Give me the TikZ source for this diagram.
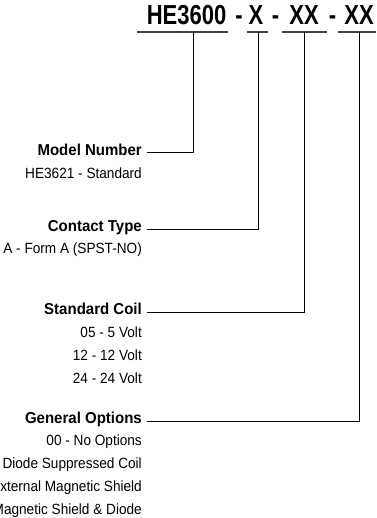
\documentclass[tikz,border=0pt]{standalone}
\usepackage{fontspec}
\setmainfont{Liberation Sans}
\newfontfamily\titlefont[FakeStretch=0.8]{Liberation Sans}
\newfontfamily\labfont[FakeStretch=0.95]{Liberation Sans}
\newfontfamily\valfont[FakeStretch=0.92]{Liberation Sans}
\begin{document}
\begin{tikzpicture}[x=1pt,y=1pt,
  title/.style={font=\titlefont\fontsize{27.5}{32}\bfseries, inner sep=0, anchor=base},
  lab/.style={font=\labfont\fontsize{15.8}{18}\bfseries, inner sep=0, anchor=base east},
  val/.style={font=\valfont\fontsize{14.8}{20}\selectfont, inner sep=0, anchor=base east},
  uline/.style={draw=black!75, line width=1.2pt},
  lead/.style={draw=black, line width=0.8pt}]
\useasboundingbox (0,0) rectangle (376,-518);
\clip (0,0) rectangle (376,-518);
% title
\node[title] (t0) at (186.5,-25) {HE3600};
\node[title] (d1) at (239,-25) {-};
\node[title] (t1) at (256,-25) {X};
\node[title] (d2) at (275.5,-25) {-};
\node[title] (t2) at (304,-25) {XX};
\node[title] (d3) at (332.5,-25) {-};
\node[title] (t3) at (359,-25) {XX};
% underlines
\coordinate (u0) at (193,-32);
\coordinate (u1) at (258,-32);
\coordinate (u2) at (304.5,-32);
\coordinate (u3) at (359.5,-32);
\draw[uline] (137,-32) -- (228,-32);
\draw[uline] (247,-32) -- (268,-32);
\draw[uline] (282,-32) -- (327,-32);
\draw[uline] (338,-32) -- (376,-32);
% labels
\node[lab] (l0) at (142,-156) {Model Number};
\node[val] (v0) at (142,-179) {HE3621 - Standard};
\node[lab] (l1) at (142,-231) {Contact Type};
\node[val] (v1) at (142,-253) {A - Form A (SPST-NO)};
\node[lab] (l2) at (142,-314) {Standard Coil};
\node[val] (v2a) at (142,-337) {05 - 5 Volt};
\node[val] (v2b) at (142,-360) {12 - 12 Volt};
\node[val] (v2c) at (142,-383) {24 - 24 Volt};
\node[lab] (l3) at (142,-423) {General Options};
\node[val] (v3a) at (142,-445) {00 - No Options};
\node[val] (v3b) at (142,-468) {01 - Diode Suppressed Coil};
\node[val] (v3c) at (142,-491) {02 - External Magnetic Shield};
\node[val] (v3d) at (142,-514) {03 - Magnetic Shield \& Diode};
% leaders
\draw[lead] ([shift={(5,3.5)}]l0.base east) -| (u0);
\draw[lead] ([shift={(5,1.5)}]l1.base east) -| (u1);
\draw[lead] ([shift={(5,2)}]l2.base east) -| (u2);
\draw[lead] ([shift={(5,2)}]l3.base east) -| (u3);
\end{tikzpicture}
\end{document}
